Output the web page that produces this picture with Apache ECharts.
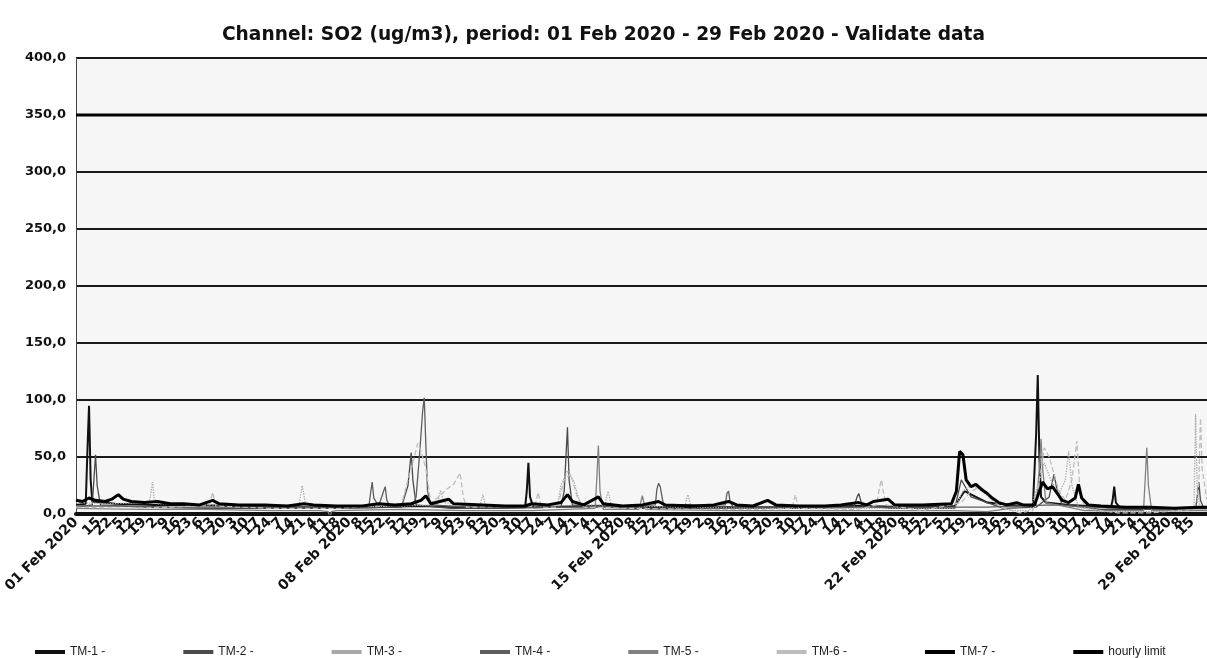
<!DOCTYPE html>
<html>
<head>
<meta charset="utf-8">
<title>SO2 February 2020</title>
<script src="https://cdn.jsdelivr.net/npm/echarts@6/dist/echarts.min.js"></script>
<style>
  html, body { margin: 0; padding: 0; background: #fff; }
  #chart { width: 1207px; height: 658px; }
</style>
</head>
<body>
<div id="chart"></div>
<script>
// hours are numbered 1..24 like the source sheet, a label every 7 hours
const month = 'Feb 2020'
const dayCount = 29
const hoursPerDay = 24
const yTicks = [0, 50, 100, 150, 200, 250, 300, 350, 400]

// [hour index, ug/m3]
const tm1 = [[0,8],[6,9],[7,55],[8,95],[9,30],[10,11],[24,9],[48,8],[72,8],[96,7],[120,6],[150,6],[180,6],[210,7],[240,6],[276,6],[277,20],[278,45],[279,15],[281,6],[320,7],[360,6],[400,6],[440,6],[480,7],[520,6],[540,7],[546,20],[560,10],[588,6],[590,70],[591,122],[592,50],[593,15],[596,10],[610,8],[636,6],[637,12],[638,24],[639,10],[642,5],[670,5],[695,5]]
const tm2 = [[0,6],[10,8],[11,30],[12,52],[13,25],[15,8],[40,6],[80,5],[120,5],[160,5],[200,6],[204,25],[206,54],[207,30],[209,8],[230,5],[260,5],[298,6],[300,20],[302,76],[303,30],[305,8],[340,5],[380,5],[420,5],[460,5],[478,6],[480,15],[481,18],[483,8],[500,5],[540,5],[544,30],[550,15],[570,5],[590,6],[598,15],[601,35],[603,20],[606,8],[630,4],[660,4],[688,5],[689,15],[690,28],[691,12],[693,5],[695,5]]
const tm3 = [[0,10],[20,9],[45,10],[46,18],[47,28],[48,14],[50,9],[80,8],[120,7],[137,8],[139,25],[141,9],[170,6],[222,8],[224,21],[226,10],[248,6],[250,17],[252,6],[296,8],[298,25],[302,38],[306,28],[310,8],[325,8],[327,20],[329,7],[374,6],[376,17],[378,6],[420,5],[470,5],[540,5],[545,20],[550,25],[555,22],[560,16],[566,8],[575,3],[586,3],[590,20],[595,45],[599,30],[604,18],[608,30],[610,55],[612,25],[616,6],[630,2],[660,2],[686,3],[687,5],[688,88],[689,20],[691,4],[695,4]]
const tm4 = [[0,7],[30,7],[60,6],[100,6],[140,6],[180,7],[181,18],[182,28],[183,14],[186,7],[189,20],[190,24],[191,12],[193,7],[207,8],[209,15],[211,50],[212,70],[213,90],[214,102],[215,60],[216,20],[218,8],[240,6],[280,6],[320,6],[356,8],[357,22],[358,27],[359,24],[361,8],[399,8],[400,18],[401,20],[402,10],[404,6],[440,6],[480,6],[520,6],[560,6],[600,8],[640,5],[695,5]]
const tm5 = [[0,5],[40,4],[80,4],[120,3],[150,3],[155,2],[156,-3],[157,2],[160,3],[200,4],[240,3],[280,3],[319,5],[320,30],[321,60],[322,20],[324,4],[346,4],[348,16],[350,4],[400,3],[450,3],[500,3],[540,3],[560,2],[590,8],[592,40],[593,66],[594,40],[596,10],[620,3],[656,3],[657,30],[658,58],[659,25],[661,3],[695,3]]
const tm6 = [[0,6],[30,5],[60,6],[82,8],[84,19],[86,7],[120,5],[160,5],[200,8],[204,30],[207,45],[210,62],[212,55],[215,40],[218,10],[222,14],[228,22],[232,26],[236,36],[238,15],[240,6],[282,7],[284,19],[286,6],[296,6],[300,30],[304,35],[308,15],[312,6],[340,5],[380,4],[420,4],[440,5],[442,17],[444,5],[480,4],[492,8],[494,25],[495,30],[496,20],[498,8],[520,3],[544,10],[550,20],[556,24],[562,16],[568,6],[580,1],[588,3],[592,30],[595,58],[598,50],[601,35],[604,20],[608,12],[612,30],[615,64],[617,20],[620,5],[640,1],[660,1],[686,4],[689,10],[690,30],[691,84],[692,40],[695,12]]
const tm7 = [[0,12],[4,11],[8,14],[12,12],[18,11],[22,13],[26,17],[29,13],[34,11],[42,10],[50,11],[58,9],[66,9],[76,8],[84,12],[88,9],[100,8],[116,8],[130,7],[140,9],[146,8],[160,7],[176,7],[186,9],[196,8],[206,9],[212,12],[215,16],[218,9],[229,13],[232,9],[250,8],[264,7],[276,7],[280,9],[290,8],[298,10],[302,17],[305,11],[312,8],[321,15],[324,9],[336,7],[348,8],[358,11],[362,8],[380,7],[392,8],[401,11],[406,8],[416,7],[425,12],[430,8],[444,7],[460,7],[470,8],[481,10],[486,8],[490,11],[499,13],[503,8],[520,8],[538,9],[541,20],[543,55],[545,52],[547,30],[550,24],[553,26],[556,22],[560,18],[563,14],[567,10],[572,8],[578,10],[582,8],[589,8],[592,20],[594,28],[597,22],[600,24],[603,18],[606,12],[610,10],[614,14],[616,26],[618,14],[622,8],[630,7],[645,6],[660,6],[675,5],[690,6],[695,6]]
const hourlyLimit = [[0,350],[695,350]]

const categories = []
for (let d = 1; d <= dayCount; d++) {
  for (let h = 1; h <= hoursPerDay; h++) {
    categories.push(h === 1 ? String(d).padStart(2, '0') + ' ' + month : String(h))
  }
}

const chart = echarts.init(document.getElementById('chart'))

function line(name, data, color, width, type) {
  return {
    name: name,
    type: 'line',
    data: data,
    showSymbol: false,
    symbol: 'none',
    z: width > 2 ? 4 : 3,
    lineStyle: { color: color, width: width, type: type || 'solid' },
    itemStyle: { color: color }
  }
}

chart.setOption({
  animation: false,
  backgroundColor: '#ffffff',
  textStyle: { fontFamily: 'DejaVu Sans, Verdana, sans-serif' },
  title: {
    text: 'Channel: SO2 (ug/m3), period: 01 Feb 2020 - 29 Feb 2020 - Validate data',
    left: 'center',
    top: 21,
    textStyle: {
      fontFamily: 'DejaVu Sans, Verdana, sans-serif',
      fontSize: 18.6,
      fontWeight: 'bold',
      color: '#111'
    }
  },
  grid: {
    left: 76,
    right: 0,
    top: 58,
    bottom: 144,
    show: true,
    backgroundColor: '#f6f6f6',
    borderWidth: 0
  },
  legend: {
    top: 641,
    left: 30,
    itemGap: 78,
    itemWidth: 30,
    itemHeight: 4,
    icon: 'rect',
    textStyle: {
      fontFamily: 'Liberation Sans Narrow, Arial Narrow, Liberation Sans, sans-serif',
      fontSize: 12,
      color: '#222'
    },
    formatter: function (n) { return n === 'hourly limit' ? n : n + ' -' },
    data: ['TM-1', 'TM-2', 'TM-3', 'TM-4', 'TM-5', 'TM-6', 'TM-7', 'hourly limit']
  },
  xAxis: {
    type: 'category',
    data: categories,
    boundaryGap: false,
    axisLine: { onZero: false, lineStyle: { color: '#111', width: 4 } },
    axisTick: { show: false },
    splitLine: { show: false },
    axisLabel: {
      interval: 6,
      rotate: 45,
      margin: 6,
      fontSize: 14,
      fontWeight: 'bold',
      color: '#111',
      showMinLabel: true,
      hideOverlap: false
    }
  },
  yAxis: {
    type: 'value',
    min: yTicks[0],
    max: yTicks[yTicks.length - 1],
    interval: 50,
    axisLine: { show: true, lineStyle: { color: '#444', width: 1 } },
    axisTick: { show: false },
    splitLine: { lineStyle: { color: '#1a1a1a', width: 1.8 } },
    axisLabel: {
      margin: 10,
      fontSize: 13,
      fontWeight: 'bold',
      color: '#111',
      formatter: function (v) { return v.toFixed(1).replace('.', ',') }
    }
  },
  series: [
    line('TM-1', tm1, '#111111', 2),
    line('TM-2', tm2, '#4a4a4a', 1.3),
    line('TM-3', tm3, '#a8a8a8', 1.3, 'dotted'),
    line('TM-4', tm4, '#5e5e5e', 1.3),
    line('TM-5', tm5, '#808080', 1.3),
    line('TM-6', tm6, '#bdbdbd', 1.3, 'dashed'),
    line('TM-7', tm7, '#000000', 3),
    line('hourly limit', hourlyLimit, '#000000', 3)
  ]
})
</script>
</body>
</html>
